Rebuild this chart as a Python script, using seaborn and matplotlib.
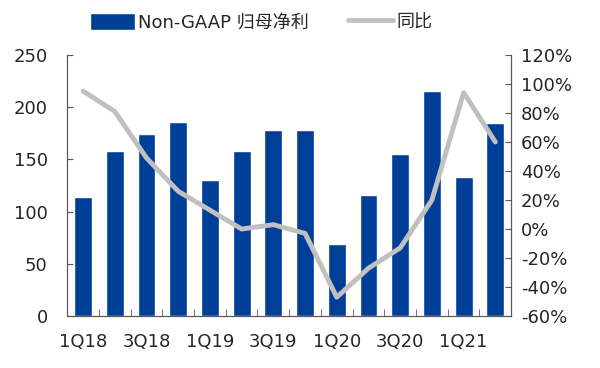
import numpy as np
import pandas as pd
import matplotlib.pyplot as plt
import seaborn as sns

quarters = ['1Q18', '2Q18', '3Q18', '4Q18', '1Q19', '2Q19', '3Q19', '4Q19',
            '1Q20', '2Q20', '3Q20', '4Q20', '1Q21', '2Q21']
profit = [114, 158, 174, 186, 130, 158, 178, 178, 69, 116, 155, 215, 133, 185]
yoy = [95, 81, 49, 26, 13, 0, 3, -3, -47, -27, -13, 20, 94, 60]
left_ticks = [0, 50, 100, 150, 200, 250]
right_ticks = [-60, -40, -20, 0, 20, 40, 60, 80, 100, 120]

sns.set_style("ticks")
plt.rcParams['font.family'] = ['DejaVu Sans', 'Noto Sans CJK SC']

df = pd.DataFrame({'quarter': quarters, 'profit': profit, 'yoy': yoy})
df['pos'] = np.arange(len(df))

fig = plt.figure(figsize=(6, 3.68), dpi=100)
ax = fig.add_axes([0.112, 0.141, 0.74, 0.71])
sns.barplot(data=df, x='quarter', y='profit', color='#003F98', saturation=1,
            width=0.56, ax=ax, label='Non-GAAP 归母净利')
ax2 = ax.twinx()
sns.lineplot(data=df, x='pos', y='yoy', color='#C0C0C0', lw=3.5, sort=False,
             ax=ax2, label='同比')

ax.set_xlim(-0.5, len(quarters) - 0.5)
ax.set_ylim(0, 250)
ax.set_yticks(left_ticks)
ax2.set_ylim(-60, 120)
ax2.set_yticks(right_ticks)
ax2.set_yticklabels([f'{v}%' for v in right_ticks])

ax.set_xticks(df['pos'][::2])
ax.set_xticklabels(quarters[::2])
ax.set_xticks(np.arange(-0.5, len(quarters), 1), minor=True)
ax.tick_params(axis='x', which='major', length=0, labelsize=13, pad=12)
ax.tick_params(axis='x', which='minor', direction='in', length=5, color='#595959')
ax.tick_params(axis='y', labelsize=13, length=4, direction='in', color='#595959', pad=14)
ax2.tick_params(axis='y', labelsize=13, length=4, direction='in', color='#595959', pad=7)
ax.set_xlabel('')
ax.set_ylabel('')
ax2.set_ylabel('')

for a in (ax, ax2):
    a.spines['top'].set_visible(False)
    for s in ('left', 'right', 'bottom'):
        a.spines[s].set_color('#595959')

h1, l1 = ax.get_legend_handles_labels()
h2, l2 = ax2.get_legend_handles_labels()
if ax.get_legend():
    ax.get_legend().remove()
if ax2.get_legend():
    ax2.get_legend().remove()
fig.legend(h1 + h2, l1 + l2, loc='center', bbox_to_anchor=(0.435, 0.94), ncol=2,
           frameon=False, fontsize=13, handlelength=2.5, handleheight=1.1,
           columnspacing=2.2, handletextpad=0.15)

fig.savefig('out.png', dpi=100)
